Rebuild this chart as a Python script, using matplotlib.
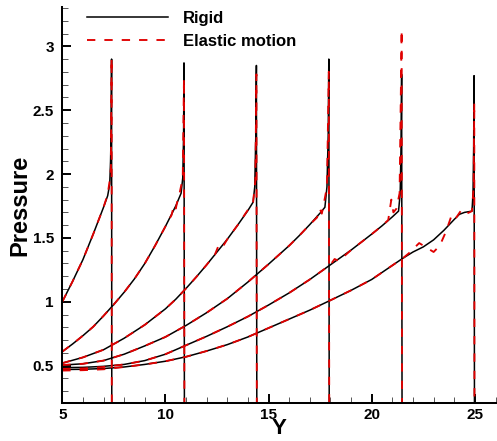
import matplotlib
matplotlib.use("Agg")
import matplotlib.pyplot as plt
from matplotlib.ticker import MultipleLocator, FuncFormatter

plt.rcParams['font.family'] = ['Liberation Sans', 'DejaVu Sans']
plt.rcParams['font.weight'] = 'bold'
plt.rcParams['lines.scale_dashes'] = False

# ---------------- data ----------------
# Rigid curves
rigid_y1 = [5.0, 5.5, 6.0, 6.5, 7.0, 7.2, 7.3, 7.34, 7.37, 7.39, 7.40]
rigid_p1 = [1.00, 1.16, 1.33, 1.53, 1.74, 1.83, 1.92, 2.10, 2.35, 2.90, 0.10]
rigid_y2 = [5.0, 5.5, 6.0, 6.5, 7.0, 7.5, 8.0, 8.5, 9.0, 9.5, 10.0, 10.5, 10.76, 10.84, 10.88, 10.90, 10.92]
rigid_p2 = [0.61, 0.67, 0.735, 0.805, 0.89, 0.98, 1.075, 1.18, 1.30, 1.44, 1.59, 1.75, 1.85, 1.97, 2.30, 2.87, 0.10]
rigid_y3 = [5.0, 6.0, 7.0, 8.0, 9.0, 10.0, 10.5, 11.0, 11.5, 12.0, 12.5, 13.0, 13.5, 14.0, 14.25, 14.33, 14.38, 14.41, 14.43]
rigid_p3 = [0.52, 0.565, 0.625, 0.715, 0.82, 0.945, 1.02, 1.105, 1.195, 1.29, 1.39, 1.49, 1.60, 1.715, 1.78, 1.90, 2.30, 2.85, 0.10]
rigid_y4 = [5.0, 6.0, 7.0, 8.0, 9.0, 10.0, 11.0, 12.0, 13.0, 14.0, 15.0, 16.0, 16.5, 17.0, 17.5, 17.73, 17.83, 17.89, 17.92, 17.94]
rigid_p4 = [0.505, 0.515, 0.54, 0.59, 0.655, 0.725, 0.815, 0.915, 1.025, 1.155, 1.295, 1.44, 1.52, 1.605, 1.695, 1.74, 1.90, 2.30, 2.90, 0.10]
rigid_y5 = [5.0, 6.0, 7.0, 8.0, 9.0, 10.0, 11.0, 12.0, 13.0, 14.0, 15.0, 16.0, 17.0, 18.0, 19.0, 20.0, 20.5, 21.0, 21.3, 21.38, 21.42, 21.45, 21.47]
rigid_p5 = [0.485, 0.487, 0.495, 0.51, 0.54, 0.59, 0.66, 0.73, 0.805, 0.885, 0.975, 1.07, 1.175, 1.29, 1.405, 1.53, 1.595, 1.665, 1.71, 1.85, 2.20, 2.78, 0.10]
rigid_y6 = [5.0, 6.0, 7.0, 8.0, 9.0, 10.0, 11.0, 12.0, 13.0, 14.0, 15.0, 16.0, 17.0, 18.0, 19.0, 20.0, 21.0, 21.5, 22.0, 22.5, 23.0, 23.5, 24.0, 24.25, 24.5, 24.86, 24.91, 24.94, 24.96, 24.98]
rigid_p6 = [0.47, 0.472, 0.478, 0.49, 0.51, 0.535, 0.57, 0.615, 0.665, 0.725, 0.795, 0.865, 0.935, 1.012, 1.09, 1.175, 1.285, 1.34, 1.39, 1.43, 1.485, 1.56, 1.645, 1.685, 1.70, 1.71, 1.85, 2.20, 2.77, 0.10]

# Elastic-motion curves
elastic_y1 = [5.0, 5.5, 6.0, 6.5, 7.0, 7.2, 7.3, 7.36, 7.39, 7.40]
elastic_p1 = [1.00, 1.16, 1.33, 1.53, 1.74, 1.84, 1.95, 2.05, 2.91, 0.10]
elastic_y2 = [5.0, 5.5, 6.0, 6.5, 7.0, 7.5, 8.0, 8.5, 9.0, 9.5, 10.0, 10.3, 10.42, 10.5, 10.6, 10.7, 10.84, 10.90, 10.92]
elastic_p2 = [0.61, 0.67, 0.735, 0.805, 0.89, 0.98, 1.075, 1.18, 1.30, 1.44, 1.59, 1.68, 1.76, 1.73, 1.80, 1.86, 1.97, 2.75, 0.10]
elastic_y3 = [5.0, 6.0, 7.0, 8.0, 9.0, 10.0, 10.5, 11.0, 11.5, 12.0, 12.4, 12.55, 12.7, 13.0, 13.5, 14.0, 14.25, 14.36, 14.41, 14.43]
elastic_p3 = [0.52, 0.565, 0.625, 0.715, 0.82, 0.945, 1.02, 1.105, 1.195, 1.29, 1.37, 1.43, 1.41, 1.49, 1.60, 1.72, 1.78, 1.95, 2.78, 0.10]
elastic_y4 = [5.0, 6.0, 7.0, 8.0, 9.0, 10.0, 11.0, 12.0, 13.0, 14.0, 15.0, 16.0, 16.5, 17.0, 17.35, 17.48, 17.58, 17.68, 17.83, 17.92, 17.94]
elastic_p4 = [0.505, 0.515, 0.54, 0.59, 0.655, 0.725, 0.815, 0.915, 1.025, 1.155, 1.295, 1.44, 1.52, 1.605, 1.66, 1.73, 1.69, 1.77, 1.90, 2.80, 0.10]
elastic_y5 = [5.0, 6.0, 7.0, 8.0, 9.0, 10.0, 11.0, 12.0, 13.0, 14.0, 15.0, 16.0, 17.0, 18.0, 18.2, 18.4, 19.0, 20.0, 20.5, 20.8, 20.95, 21.05, 21.2, 21.35, 21.45, 21.47]
elastic_p5 = [0.475, 0.478, 0.49, 0.51, 0.54, 0.59, 0.66, 0.73, 0.805, 0.885, 0.975, 1.07, 1.175, 1.29, 1.335, 1.32, 1.405, 1.53, 1.595, 1.64, 1.80, 1.70, 1.73, 1.85, 3.13, 0.10]
elastic_y6 = [5.0, 6.0, 7.0, 8.0, 9.0, 10.0, 11.0, 12.0, 13.0, 14.0, 15.0, 16.0, 17.0, 18.0, 19.0, 20.0, 21.0, 21.5, 21.8, 22.3, 22.7, 23.0, 23.3, 23.6, 23.9, 24.1, 24.35, 24.6, 24.86, 24.94, 24.97, 24.98]
elastic_p6 = [0.462, 0.465, 0.472, 0.49, 0.51, 0.535, 0.57, 0.615, 0.665, 0.725, 0.795, 0.865, 0.935, 1.012, 1.09, 1.175, 1.285, 1.34, 1.38, 1.46, 1.42, 1.39, 1.44, 1.55, 1.69, 1.66, 1.72, 1.69, 1.71, 1.90, 2.56, 0.10]

rigid = [(rigid_y1, rigid_p1), (rigid_y2, rigid_p2), (rigid_y3, rigid_p3),
         (rigid_y4, rigid_p4), (rigid_y5, rigid_p5), (rigid_y6, rigid_p6)]
elastic = [(elastic_y1, elastic_p1), (elastic_y2, elastic_p2), (elastic_y3, elastic_p3),
           (elastic_y4, elastic_p4), (elastic_y5, elastic_p5), (elastic_y6, elastic_p6)]

legend_labels = ["Rigid", "Elastic motion"]
x_label = "Y"
y_label = "Pressure"

# ---------------- figure ----------------
fig = plt.figure(figsize=(4.97, 4.41), dpi=100)
ax = fig.add_axes([0.1253, 0.0873, 0.8717, 0.8961])

rl = None
el = None
for (yy, pp) in rigid:
    rl, = ax.plot(yy, pp, color='black', lw=1.1)
for (yy, pp) in elastic:
    el, = ax.plot(yy, pp, color='#e00000', lw=1.35, linestyle=(0, (6.0, 6.5)))

ax.set_xlim(5, 26)
ax.set_ylim(0.212, 3.305)

ax.xaxis.set_major_locator(MultipleLocator(5))
ax.xaxis.set_minor_locator(MultipleLocator(1))
ax.yaxis.set_major_locator(MultipleLocator(0.5))
ax.yaxis.set_minor_locator(MultipleLocator(0.1))

def fmt(v, pos):
    return '%g' % v
ax.xaxis.set_major_formatter(FuncFormatter(fmt))
ax.yaxis.set_major_formatter(FuncFormatter(fmt))

ax.tick_params(which='major', direction='in', length=6.5, width=1.4, labelsize=11)
ax.tick_params(which='minor', direction='in', length=4.3, width=0.7, color='#555555')
ax.tick_params(axis='x', which='major', pad=4)
ax.tick_params(axis='y', which='major', pad=6)
for lab in ax.get_xticklabels() + ax.get_yticklabels():
    lab.set_fontweight('bold')

for s in ['top', 'right']:
    ax.spines[s].set_visible(False)
for s in ['left', 'bottom']:
    ax.spines[s].set_linewidth(1.45)

ax.set_xlabel(x_label, fontsize=16, fontweight='bold', labelpad=-3)
ax.set_ylabel(y_label, fontsize=17, fontweight='bold', labelpad=1)

leg = ax.legend([rl, el], legend_labels, loc='upper left', bbox_to_anchor=(0.057, 0.99),
                frameon=False, handlelength=4.85, handletextpad=0.9, labelspacing=0.45,
                borderaxespad=0, borderpad=0, prop={'size': 12, 'weight': 'bold'})

fig.savefig("out.png", dpi=100)
